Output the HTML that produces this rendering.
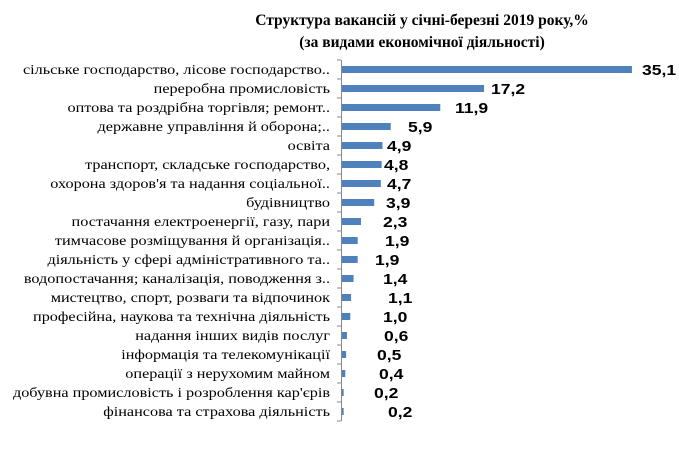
<!DOCTYPE html>
<html><head><meta charset="utf-8"><style>
body{margin:0;background:#fff;}
svg text{font-family:"Liberation Serif","DejaVu Serif",serif;}
</style></head><body>
<svg width="679" height="448" xmlns="http://www.w3.org/2000/svg">
<text x="422" y="25" text-anchor="middle" font-size="15.5" font-weight="bold">Структура вакансій у січні-березні  2019 року,%</text>
<text x="422" y="47" text-anchor="middle" font-size="15.5" font-weight="bold">(за видами економічної діяльності)</text>
<line x1="341.5" y1="60" x2="341.5" y2="421" stroke="#888" stroke-width="1"/>
<g id="rows"></g>
</svg>
<script>
var d=[["сільське господарство, лісове господарство..",35.1,642],["переробна промисловість",17.2,491],["оптова та роздрібна торгівля; ремонт..",11.9,455],["державне управління й оборона;..",5.9,408],["освіта",4.9,387],["транспорт, складське господарство,",4.8,384],["охорона здоров'я та надання соціальної..",4.7,387],["будівництво",3.9,386],["постачання електроенергії, газу, пари",2.3,383],["тимчасове розміщування й організація..",1.9,385],["діяльність у сфері адміністративного та..",1.9,375],["водопостачання; каналізація, поводження з..",1.4,383],["мистецтво, спорт, розваги та відпочинок",1.1,388],["професійна, наукова та технічна діяльність",1.0,383],["надання інших видів послуг",0.6,384],["інформація та телекомунікації",0.5,377],["операції з нерухомим майном",0.4,379],["добувна промисловість і розроблення кар'єрів",0.2,374],["фінансова та страхова діяльність",0.2,388]];
var g=document.getElementById("rows"),s="";
for(var i=0;i<d.length;i++){var y=69.5+i*19.0;
s+='<line x1="337" y1="'+(y-9.5)+'" x2="341" y2="'+(y-9.5)+'" stroke="#888"/>';
s+='<rect x="342" y="'+(y-3.5)+'" width="'+(d[i][1]*8.26)+'" height="7" fill="#4f81bd"/>';
s+='<text transform="translate(330,'+(y+4.5)+') scale(1.22,1)" text-anchor="end" font-size="13.3">'+d[i][0]+'</text>';
s+='<text transform="translate('+d[i][2]+','+(y+5.5)+') scale(1.17,1)" font-size="15" font-weight="bold" style="font-family:\'Liberation Sans\',sans-serif">'+d[i][1].toFixed(1).replace(".",",")+'</text>';}
s+='<line x1="337" y1="'+(69.5+19*19-9.5)+'" x2="341" y2="'+(69.5+19*19-9.5)+'" stroke="#888"/>';
g.innerHTML=s;
</script>
</body></html>
